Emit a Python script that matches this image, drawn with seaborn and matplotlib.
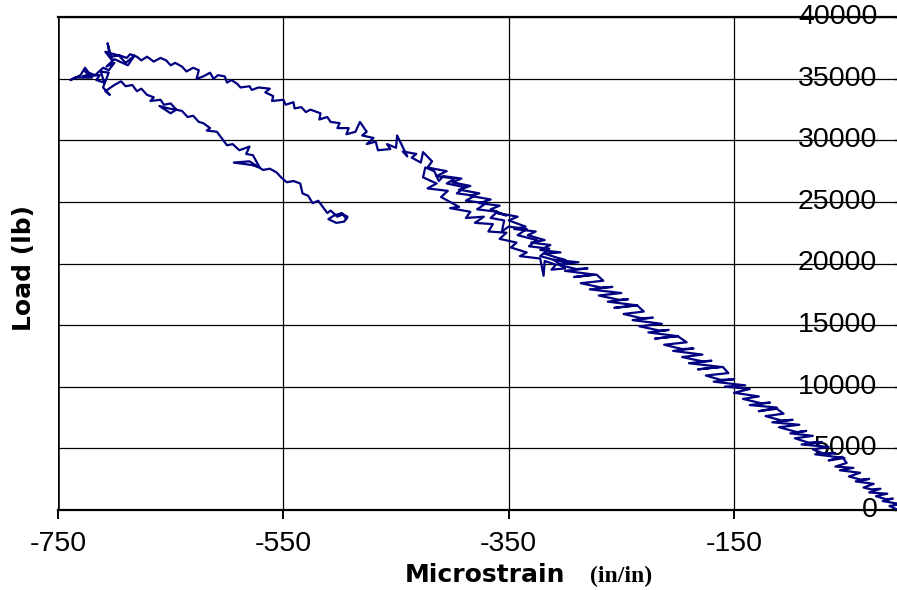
import matplotlib
matplotlib.use("Agg")
import matplotlib.pyplot as plt
import seaborn as sns
import pandas as pd

# ---- data (microstrain, load in lb), in drawing order ----
strain_loading = [-5, -12, -2, -18, -9, -15, -24, -14, -30, -20, -28, -35, -26, -42, -30, -38, -48, -38,
                  -56, -44, -60, -50, -54, -66, -52, -78, -60, -70, -80, -66, -90, -72, -84, -96, -80,
                  -100, -86, -94, -110, -92, -116, -98, -108, -122, -106, -112, -128, -112, -136, -118,
                  -126, -142, -128, -150, -136, -158, -140, -168, -150, -162, -175, -155, -160, -182,
                  -162, -190, -170, -178, -196, -178, -204, -186, -196, -212, -192, -200, -220, -200,
                  -226, -208, -216, -234, -214, -240, -222, -232, -248, -230, -236, -256, -236, -262,
                  -244, -252, -270, -250, -278, -258, -268, -286, -266, -272, -292, -274, -300, -280,
                  -290, -306, -288, -310, -296, -300]
load_loading = [0, 300, 450, 700, 900, 850, 1100, 1300, 1400, 1700, 1650, 1800, 2100, 2300, 2500, 2450, 2700, 3000,
                3200, 3400, 3500, 3800, 4300, 4000, 4200, 4500, 4600, 4550, 4900, 5100, 5300, 5500, 5450, 5800, 6000,
                6200, 6400, 6300, 6700, 6900, 7100, 7300, 7250, 7600, 7800, 8200, 8000, 8300, 8500, 8700,
                8650, 9000, 9200, 9500, 9800, 10000, 10100, 10400, 10600, 10550, 10900, 11100, 11600, 11400,
                11600, 11900, 12100, 12050, 12400, 12600, 12900, 13100, 13050, 13400, 13600, 14100, 13900, 14100,
                14400, 14600, 14550, 14900, 15100, 15400, 15600, 15550, 15900, 16100, 16600, 16400, 16600, 16900,
                17100, 17050, 17400, 17600, 17900, 18100, 18050, 18400, 18600, 19100, 18900, 19100, 19400, 19600,
                19550, 19900, 20100, 20300, 20000, 20300]

strain_cycle = [-308, -318, -304, -322, -313, -330, -318, -333, -326, -345, -335, -350, -342, -360, -352,
                -366, -358, -376, -366, -384, -376, -394, -384, -400, -392, -408, -412, -416, -424,
                -426, -414, -422, -404, -410, -394, -402, -384, -388, -372, -380, -364, -368, -352,
                -358, -343, -348, -334, -340, -322, -319, -318, -308, -312, -300,
                -310, -322, -314, -332, -325, -342, -334, -350, -356, -354, -366, -360, -378, -370,
                -388, -380, -396, -389, -405, -398, -414, -405, -422]
load_cycle = [20500, 20800, 20900, 21100, 21500, 21700, 21900, 22300, 22600, 22800, 23000, 23500, 23800, 24100, 23900,
              24400, 24700, 24900, 25200, 25500, 25700, 26000, 26300, 26600, 26900, 27100, 26700, 27500, 27800,
              27000, 26500, 26100, 25900, 25400, 24600, 24500, 24200, 23700, 23800, 23300, 23200, 22600, 22500,
              22000, 21700, 21300, 20900, 20600, 20400, 19000, 20200, 19900, 19500, 19600,
              20300, 20600, 21200, 21400, 21900, 22300, 22800, 23000, 22600, 23500, 23700, 24200, 24400, 24900,
              25100, 25500, 25700, 26200, 26500, 26900, 27100, 27500, 27800]

strain_upper = [-418, -426, -428, -436, -432, -444, -440, -449, -450, -458, -455, -466, -468, -476, -470,
                -480, -476, -482, -486, -494, -492, -502, -500, -508, -511, -518, -517, -526, -530, -534,
                -540, -541, -548, -550, -560, -559, -566, -562, -572, -578, -580, -588, -591, -596, -600,
                -602, -608, -612, -615, -621, -627, -625, -630, -636, -640, -646, -650, -654, -659, -665,
                -671, -676, -680, -686, -689, -695, -704, -706, -702, -708, -696, -690, -682, -688, -700,
                -707, -700, -705, -710]
load_upper = [28300, 29050, 28200, 28600, 28900, 29100, 28700, 30400, 29400, 29700, 29300, 29200, 29900, 29700, 30200,
              30400, 30700, 31500, 30700, 30500, 31000, 31000, 31400, 31500, 31900, 31700, 32200, 32500, 32300, 32700,
              32600, 33100, 32900, 33300, 33200, 33600, 33900, 34200, 34300, 34100, 34400, 34300, 34600, 34900, 34700,
              35200, 35300, 35000, 35500, 35200, 35000, 35700, 35900, 35600, 36000, 36300, 36100, 36500, 36700, 36400,
              36800, 36500, 36800, 37000, 36700, 36900, 36800, 37900, 36500, 37200, 36900, 36300, 36900, 36100, 36600,
              36000, 36300, 35700, 35900]

strain_peak = [-717, -726, -720, -735, -739, -730, -726, -722, -728, -713, -716, -709, -712, -705, -710,
               -704, -708, -700, -694, -690, -684]
load_peak = [35300, 35600, 35100, 35100, 34900, 35300, 35900, 35400, 35200, 35300, 34900, 34700, 35600, 35500, 34300,
             33700, 34000, 34500, 34800, 34400, 34500]

strain_unload = [-680, -676, -671, -665, -668, -659, -656, -650, -645, -650, -660, -652, -640, -635, -630,
                 -625, -621, -615, -618, -609, -604, -600, -595, -589, -586, -580, -583, -577, -571, -578,
                 -594, -580, -568, -562, -556, -552, -547, -541, -535, -533, -528, -524, -519, -515, -511,
                 -508, -502, -497, -493, -496, -503, -510, -505, -498, -494]
load_unload = [34000, 34200, 33700, 33500, 33200, 33300, 32900, 33000, 32500, 32200, 32800, 32600, 32400, 31900, 32000,
               31500, 31400, 31000, 30800, 30700, 30100, 29600, 29700, 29200, 29300, 29500, 28900, 28800, 27800, 28000,
               28200, 28300, 27600, 27700, 27400, 27000, 26600, 26700, 26500, 25700, 25500, 24900, 25100, 24600, 24100,
               24300, 23800, 24000, 23800, 23400, 23300, 23600, 23900, 24100, 23600]

x_ticks = [-750, -550, -350, -150]
y_ticks = [0, 5000, 10000, 15000, 20000, 25000, 30000, 35000, 40000]

strain = strain_loading + strain_cycle + strain_upper + strain_peak + strain_unload
load = load_loading + load_cycle + load_upper + load_peak + load_unload
df = pd.DataFrame({"strain": strain, "load": load})

# ---- styling ----
sns.set_style("white")
plt.rcParams["font.family"] = ["Liberation Sans", "DejaVu Sans"]
plt.rcParams["text.color"] = "black"
plt.rcParams["xtick.color"] = "black"
plt.rcParams["ytick.color"] = "black"

fig = plt.figure(figsize=(8.97, 5.90), dpi=100)
ax = fig.add_axes([58 / 897, (590 - 509.7) / 590, (903 - 58) / 897, (509.7 - 17.3) / 590])

sns.lineplot(data=df, x="strain", y="load", sort=False, estimator=None,
             color="#000080", linewidth=1.6, ax=ax, zorder=3)

ax.set_xlim(-750, 0)
ax.set_ylim(0, 40000)
ax.set_xticks(x_ticks)
ax.set_yticks(y_ticks)
ax.set_xticklabels([str(v) for v in x_ticks])
ax.set_yticklabels([str(v) for v in y_ticks])
ax.set_xlabel("")
ax.set_ylabel("")

ax.grid(True, color="black", linewidth=0.9)
ax.set_axisbelow(True)

# y axis crosses at strain = 0 (right side); frame on left at -750
ax.spines["left"].set_position(("data", 0))
ax.spines["right"].set_visible(False)
for s in ["left", "top", "bottom"]:
    ax.spines[s].set_color("black")
    ax.spines[s].set_linewidth(1.6)
ax.axvline(x_ticks[0], color="black", linewidth=1.8, zorder=2)

ax.tick_params(axis="x", direction="out", length=6.5, width=1.4, colors="black",
               labelsize=20.5, pad=9, bottom=True)
ax.tick_params(axis="y", direction="out", length=6.5, width=1.0, colors="black",
               labelsize=20.5, pad=12, left=True)
for lab in ax.get_yticklabels():
    lab.set_verticalalignment("center")

# axis titles
fig.text(405 / 897, (590 - 582) / 590, "Microstrain", fontsize=18, fontweight="bold",
         family="DejaVu Sans", color="black", ha="left", va="baseline")
fig.text(590 / 897, (590 - 582) / 590, "(in/in)", fontsize=17, fontweight="bold",
         family="Liberation Serif", color="black", ha="left", va="baseline")
fig.text(24 / 897, (590 - 268) / 590, "Load (lb)", fontsize=18, fontweight="bold",
         family="DejaVu Sans", color="black", rotation=90, ha="center", va="center")

fig.savefig("out.png", dpi=100)
